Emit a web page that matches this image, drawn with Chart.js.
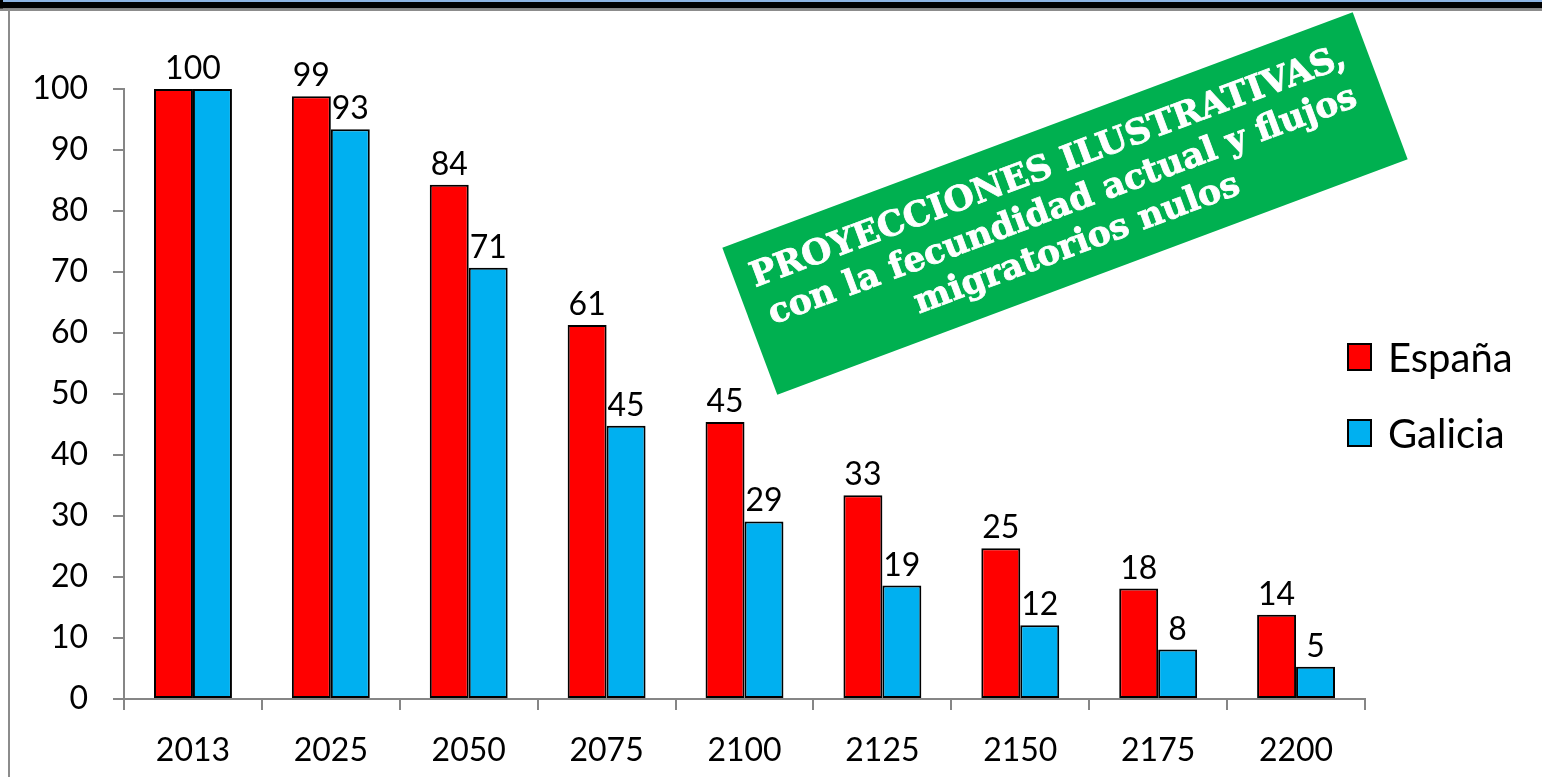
<!DOCTYPE html>
<html>
<head>
<meta charset="utf-8">
<script src="https://cdn.jsdelivr.net/npm/chart.js@4.4.1/dist/chart.umd.min.js"></script>
<style>
  html, body { margin:0; padding:0; background:#fff; }
  #wrap { position:relative; width:1542px; height:777px; }
  canvas { display:block; }
</style>
</head>
<body>
<div id="wrap"><canvas id="c" width="1542" height="777"></canvas></div>
<script>
const categories = ['2013','2025','2050','2075','2100','2125','2150','2175','2200'];
const espana  = [100, 98.8, 84.3, 61.3, 45.4, 33.4, 24.7, 18.1, 13.8];
const galicia = [100, 93.4, 70.7, 44.8, 29.1, 18.6, 12.1, 8.1, 5.3];
const seriesNames = ['España', 'Galicia'];
const yMin = 0, yMax = 100, yStep = 10;
const noteLines = ['PROYECCIONES ILUSTRATIVAS,', 'con la fecundidad actual y flujos', 'migratorios nulos'];

const RED = '#FF0000', BLUE = '#00B0F0', AXIS = '#868686';

const framePlugin = {
  id: 'frame',
  beforeDraw(chart) {
    const ctx = chart.ctx;
    ctx.save();
    ctx.fillStyle = '#fff';
    ctx.fillRect(0, 0, chart.width, chart.height);
    ctx.fillStyle = '#8DB4E2';
    ctx.fillRect(0, 0, chart.width, 2);
    ctx.fillStyle = '#000';
    ctx.fillRect(0, 2, chart.width, 6.5);
    ctx.fillRect(0, 0, 3, 11);
    ctx.fillStyle = '#8c8c8c';
    ctx.fillRect(0, 8.5, chart.width, 2.5);
    ctx.fillRect(8, 10, 2, chart.height - 10);
    ctx.restore();
  }
};

const labelPlugin = {
  id: 'barLabels',
  afterDatasetsDraw(chart) {
    const ctx = chart.ctx;
    ctx.save();
    ctx.font = '32px Lato';
    ctx.fillStyle = '#000';
    ctx.textAlign = 'center';
    ctx.textBaseline = 'alphabetic';
    const m0 = chart.getDatasetMeta(0), m1 = chart.getDatasetMeta(1);
    const d0 = chart.data.datasets[0].data, d1 = chart.data.datasets[1].data;
    for (let i = 0; i < d0.length; i++) {
      const a = m0.data[i], b = m1.data[i];
      const ra = Math.round(d0[i]), rb = Math.round(d1[i]);
      if (ra === rb && Math.abs(a.y - b.y) < 1) {
        ctx.fillText(String(ra), (a.x + b.x) / 2, a.y - 10);
      } else {
        ctx.fillText(String(ra), a.x, a.y - 10);
        ctx.fillText(String(rb), b.x, b.y - 10);
      }
    }
    ctx.restore();
  }
};

const legendPlugin = {
  id: 'customLegend',
  afterDraw(chart) {
    const ctx = chart.ctx;
    ctx.save();
    const x0 = 1347, ys = [343, 419];
    chart.data.datasets.forEach((ds, i) => {
      ctx.fillStyle = ds.backgroundColor;
      ctx.fillRect(x0, ys[i], 25, 28);
      ctx.strokeStyle = '#000';
      ctx.lineWidth = 2;
      ctx.strokeRect(x0 + 1, ys[i] + 1, 23, 26);
      ctx.fillStyle = '#000';
      ctx.font = '40px Lato';
      ctx.textAlign = 'left';
      ctx.textBaseline = 'alphabetic';
      ctx.fillText(ds.label, 1388, ys[i] + 29);
    });
    ctx.restore();
  }
};

const notePlugin = {
  id: 'note',
  afterDraw(chart) {
    const ctx = chart.ctx;
    ctx.save();
    ctx.translate(1065, 203.5);
    ctx.rotate(-20.5 * Math.PI / 180);
    ctx.fillStyle = '#00B050';
    ctx.fillRect(-336.5, -78.5, 673, 157);
    ctx.fillStyle = '#fff';
    ctx.strokeStyle = '#fff';
    ctx.lineWidth = 0.8;
    ctx.textAlign = 'center';
    ctx.textBaseline = 'alphabetic';
    let fs = 24;
    ctx.font = 'bold ' + fs + 'px "DejaVu Serif"';
    const w = ctx.measureText(noteLines[1]).width;
    fs = fs * 626 / w;
    ctx.font = 'bold ' + fs.toFixed(2) + 'px "DejaVu Serif"';
    const base = [-30, 11, 52];
    noteLines.forEach((t, i) => { ctx.fillText(t, -3, base[i]); ctx.strokeText(t, -3, base[i]); });
    ctx.restore();
  }
};

function build() {
  new Chart(document.getElementById('c'), {
    type: 'bar',
    data: {
      labels: categories,
      datasets: [
        { label: seriesNames[0], data: espana, backgroundColor: RED, borderColor: '#000', borderWidth: 2, borderSkipped: false },
        { label: seriesNames[1], data: galicia, backgroundColor: BLUE, borderColor: '#000', borderWidth: 2, borderSkipped: false }
      ]
    },
    options: {
      responsive: false,
      animation: false,
      events: [],
      layout: { padding: { left: 0, top: 89, right: 177, bottom: 0 } },
      datasets: { bar: { categoryPercentage: 0.565, barPercentage: 1.0 } },
      plugins: { legend: { display: false }, tooltip: { enabled: false }, title: { display: false } },
      scales: {
        x: {
          offset: true,
          grid: { offset: true, drawOnChartArea: false, drawTicks: true, tickLength: 11, color: AXIS, lineWidth: 2 },
          border: { display: true, color: AXIS, width: 2 },
          ticks: { color: '#000', font: { family: 'Lato', size: 32 }, padding: 21, maxRotation: 0, autoSkip: false },
          afterFit(s) { s.height = 78; }
        },
        y: {
          min: yMin, max: yMax,
          grid: { drawOnChartArea: false, drawTicks: true, tickLength: 11, color: AXIS, lineWidth: 2 },
          border: { display: true, color: AXIS, width: 2 },
          ticks: { stepSize: yStep, color: '#000', font: { family: 'Lato', size: 32 }, padding: 25 },
          afterFit(s) { s.width = 124; }
        }
      }
    },
    plugins: [framePlugin, labelPlugin, legendPlugin, notePlugin]
  });
}

Promise.all([
  document.fonts.load('32px Lato'),
  document.fonts.load('40px Lato'),
  document.fonts.load('bold 24px "DejaVu Serif"')
]).then(build, build);
</script>
</body>
</html>
